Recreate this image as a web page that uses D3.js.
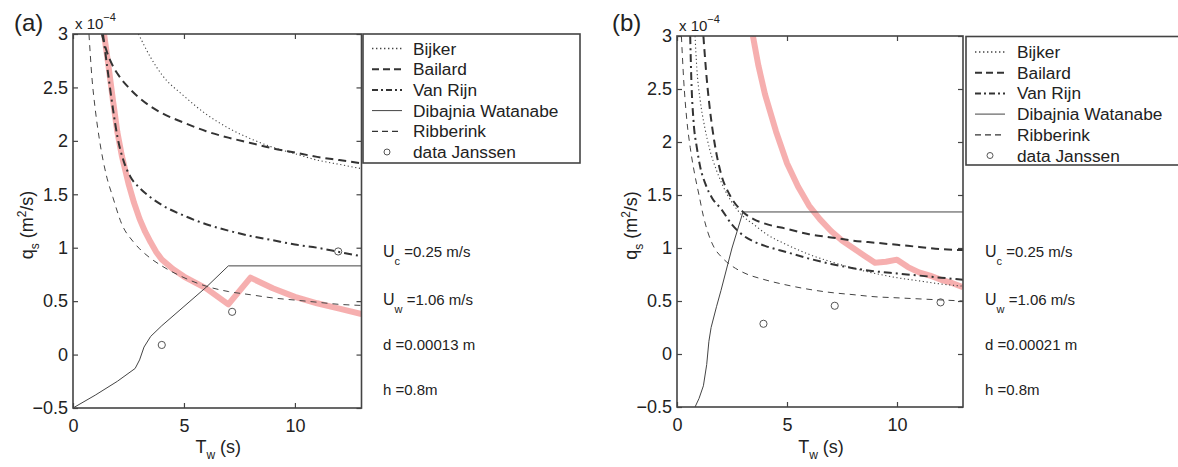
<!DOCTYPE html>
<html><head><meta charset="utf-8">
<script src="https://cdn.jsdelivr.net/npm/d3@7"></script>
<style>body{margin:0;background:#fff}svg{display:block;font-family:"Liberation Sans",Arial,Helvetica,sans-serif}</style>
</head><body><svg id="c" width="1178" height="467"></svg>
<script>
// ---------- DATA (q_s in units of 1e-4 m^2/s, T_w in s) ----------
const xTicks = [0, 5, 10];
const yTicks = [-0.5, 0, 0.5, 1, 1.5, 2, 2.5, 3];
const legendLabels = ["Bijker", "Bailard", "Van Rijn", "Dibajnia Watanabe", "Ribberink", "data Janssen"];

// panel (a)
const bijkerA = [[2.95,3.0],[3.5,2.78],[4,2.62],[5,2.42],[6,2.25],[7,2.12],[8,2.02],[9,1.94],[10,1.88],[11,1.82],[12,1.78],[13,1.74]];
const bailardA = [[1.3,3.0],[1.5,2.85],[1.75,2.72],[2,2.63],[2.5,2.5],[3,2.4],[4,2.26],[5,2.17],[6,2.09],[7,2.03],[8,1.98],[9,1.93],[10,1.89],[11,1.85],[12,1.82],[13,1.79]];
const vanRijnA = [[1.35,3.0],[1.6,2.6],[1.8,2.3],[2,2.04],[2.3,1.8],[2.6,1.66],[3,1.56],[3.5,1.47],[4,1.4],[5,1.3],[6,1.22],[7,1.16],[8,1.11],[9,1.07],[10,1.03],[11,1.0],[12,0.96],[13,0.92]];
const dibajniaA = [[0,-0.5],[1,-0.38],[2,-0.25],[2.8,-0.13],[3.0,-0.05],[3.2,0.07],[3.5,0.17],[4,0.27],[5,0.45],[6,0.63],[7,0.83],[13,0.83]];
const ribberinkA = [[0.72,3.0],[0.85,2.6],[1.0,2.3],[1.2,2.0],[1.5,1.68],[1.8,1.47],[2.2,1.22],[2.7,1.06],[3,0.99],[3.5,0.9],[4,0.83],[5,0.72],[6,0.64],[7,0.59],[8,0.56],[9,0.53],[10,0.51],[11,0.49],[12,0.47],[13,0.46]];
const modelA = [[1.4,3.0],[1.6,2.7],[1.8,2.38],[2,2.08],[2.2,1.86],[2.5,1.6],[2.75,1.42],[3,1.27],[3.25,1.15],[3.5,1.05],[3.75,0.96],[4,0.89],[4.5,0.8],[5,0.73],[6,0.62],[7,0.47],[8,0.72],[9,0.62],[10,0.54],[11,0.48],[12,0.43],[13,0.38]];
const janssenA = [[4,0.09],[7.17,0.40],[11.95,0.965]];
const annotA = ["0.25 m/s", "1.06 m/s", "d =0.00013 m", "h =0.8m"];

// panel (b)
const bijkerB = [[0.82,3.0],[0.9,2.7],[1.05,2.4],[1.25,2.15],[1.5,1.92],[1.8,1.73],[2.1,1.58],[2.5,1.43],[3,1.3],[3.5,1.22],[4,1.14],[5,1.03],[6,0.94],[7,0.87],[8,0.81],[9,0.76],[10,0.72],[11,0.69],[12,0.66],[13,0.64]];
const bailardB = [[1.2,3.0],[1.35,2.6],[1.5,2.3],[1.7,2.0],[2.0,1.7],[2.4,1.5],[3,1.34],[3.5,1.27],[4,1.23],[5,1.18],[6,1.13],[7,1.1],[8,1.07],[9,1.05],[10,1.03],[11,1.01],[12,0.99],[13,0.98]];
const vanRijnB = [[0.6,3.0],[0.65,2.6],[0.75,2.2],[0.9,1.95],[1.05,1.77],[1.3,1.6],[1.6,1.47],[2,1.37],[2.5,1.22],[3,1.12],[3.5,1.06],[4,1.02],[5,0.96],[6,0.9],[7,0.85],[8,0.81],[9,0.78],[10,0.76],[11,0.74],[12,0.72],[13,0.7]];
const dibajniaB = [[0.82,-0.5],[1.0,-0.42],[1.2,-0.3],[1.35,-0.1],[1.45,0.12],[1.55,0.25],[1.8,0.45],[2.0,0.6],[2.5,1.0],[3.0,1.34],[13,1.34]];
const ribberinkB = [[0.2,3.0],[0.3,2.6],[0.45,2.2],[0.6,1.95],[0.8,1.7],[1.0,1.5],[1.2,1.3],[1.4,1.15],[1.7,1.0],[2.0,0.92],[2.5,0.83],[3,0.77],[4,0.7],[5,0.65],[6,0.61],[7,0.58],[8,0.56],[9,0.54],[10,0.53],[11,0.52],[12,0.51],[13,0.5]];
const modelB = [[3.45,3.0],[3.7,2.72],[4,2.45],[4.5,2.1],[5,1.8],[5.5,1.58],[6,1.4],[6.5,1.27],[7,1.16],[7.5,1.07],[8,1.0],[8.5,0.93],[9,0.86],[9.5,0.87],[10,0.89],[10.5,0.82],[11,0.77],[11.5,0.74],[12,0.7],[12.5,0.67],[13,0.63]];
const janssenB = [[3.93,0.285],[7.17,0.455],[11.98,0.487]];
const annotB = ["0.25 m/s", "1.06 m/s", "d =0.00021 m", "h =0.8m"];

// ---------- STYLES ----------
const styles = [
  {w:1.1, dash:"1.2,2.6", col:"#444", smooth:true},   // Bijker
  {w:2.0, dash:"8,5", col:"#333", smooth:true},       // Bailard
  {w:2.0, dash:"8,4,2,4", col:"#333", smooth:true},   // Van Rijn
  {w:1.0, dash:null, col:"#444", smooth:false},       // Dibajnia
  {w:1.0, dash:"6,5", col:"#444", smooth:true}        // Ribberink
];

const svg = d3.select("#c");

const panels = [
  {id:"a", label:"(a)", lx:14, box:{l:73, r:361.5, t:34, b:408},
   series:[bijkerA,bailardA,vanRijnA,dibajniaA,ribberinkA], model:modelA, data:janssenA, annot:annotA,
   legend:{x:363, y:34, w:217, h:129, sx:372, tx:413, row0:48.5}, ax:383, qx:33},
  {id:"b", label:"(b)", lx:612, box:{l:677, r:963, t:36, b:407},
   series:[bijkerB,bailardB,vanRijnB,dibajniaB,ribberinkB], model:modelB, data:janssenB, annot:annotB,
   legend:{x:966, y:36.5, w:230, h:128.5, sx:975, tx:1017, row0:52}, ax:985, qx:637}
];

panels.forEach(p => {
  const g = svg.append("g");
  const B = p.box;
  const x = d3.scaleLinear().domain([0,13]).range([B.l, B.r]);
  const y = d3.scaleLinear().domain([-0.5,3]).range([B.b, B.t]);
  const line = d3.line().x(d=>x(d[0])).y(d=>y(d[1]));
  const sline = d3.line().x(d=>x(d[0])).y(d=>y(d[1])).curve(d3.curveMonotoneX);

  const cid = "clip"+p.id;
  svg.append("clipPath").attr("id",cid).append("rect")
    .attr("x",B.l).attr("y",B.t).attr("width",B.r-B.l).attr("height",B.b-B.t);
  const plot = g.append("g").attr("clip-path",`url(#${cid})`);

  // pink model curve
  plot.append("path").datum(p.model).attr("d",line)
    .attr("fill","none").attr("stroke","#f07a7a").attr("stroke-opacity",0.6)
    .attr("stroke-width",6).attr("stroke-linejoin","round");

  p.series.forEach((s,i) => {
    const st = styles[i];
    plot.append("path").datum(s).attr("d",st.smooth?sline:line)
      .attr("fill","none").attr("stroke",st.col).attr("stroke-width",st.w)
      .attr("stroke-dasharray",st.dash);
  });

  g.selectAll("circle.pt").data(p.data).enter().append("circle")
    .attr("cx",d=>x(d[0])).attr("cy",d=>y(d[1])).attr("r",3.6)
    .attr("fill","none").attr("stroke","#555").attr("stroke-width",1);

  // axes (inward ticks)
  const fmt = d3.format("~g");
  const axL = g.append("g").attr("transform",`translate(${B.l},0)`)
    .call(d3.axisLeft(y).tickValues(yTicks).tickSizeInner(-5).tickSizeOuter(0).tickPadding(5).tickFormat(fmt));
  const axB = g.append("g").attr("transform",`translate(0,${B.b})`)
    .call(d3.axisBottom(x).tickValues(xTicks).tickSizeInner(-5).tickSizeOuter(0).tickPadding(11).tickFormat(fmt));
  const axR = g.append("g").attr("transform",`translate(${B.r},0)`)
    .call(d3.axisRight(y).tickValues(yTicks).tickSizeInner(-5).tickSizeOuter(0).tickFormat(""));
  const axT = g.append("g").attr("transform",`translate(0,${B.t})`)
    .call(d3.axisTop(x).tickValues(xTicks).tickSizeInner(-5).tickSizeOuter(0).tickFormat(""));
  [axL,axB,axR,axT].forEach(a => {
    a.select(".domain").remove();
    a.selectAll("line").attr("stroke","#444").attr("stroke-width",1.2);
    a.selectAll("text").attr("font-size",18).attr("fill","#222")
      .attr("font-family",'"Liberation Sans",Arial,sans-serif');
  });
  g.append("rect").attr("x",B.l).attr("y",B.t).attr("width",B.r-B.l).attr("height",B.b-B.t)
    .attr("fill","none").attr("stroke","#444").attr("stroke-width",1.6);

  // x 10^-4
  const ex = g.append("text").attr("x",B.l+2).attr("y",B.t-5).attr("font-size",15).attr("fill","#222");
  ex.append("tspan").text("x 10");
  ex.append("tspan").attr("font-size",11).attr("dy",-8).text("−4");

  // panel label
  g.append("text").attr("x",p.lx).attr("y",31).attr("font-size",24).attr("fill","#222").text(p.label);

  // axis titles
  const xt = g.append("text").attr("x",(B.l+B.r)/2 + 1).attr("y",453).attr("text-anchor","middle")
    .attr("font-size",18).attr("fill","#222");
  xt.append("tspan").text("T");
  xt.append("tspan").attr("font-size",12).attr("dy",6).text("w");
  xt.append("tspan").attr("dy",-6).text(" (s)");

  const yt = g.append("text").attr("transform",`translate(${p.qx},${(B.t+B.b)/2+4}) rotate(-90)`)
    .attr("text-anchor","middle").attr("font-size",18).attr("fill","#222");
  yt.append("tspan").text("q");
  yt.append("tspan").attr("font-size",12).attr("dy",6).text("s");
  yt.append("tspan").attr("dy",-6).text(" (m");
  yt.append("tspan").attr("font-size",12).attr("dy",-7).text("2");
  yt.append("tspan").attr("dy",7).text("/s)");

  // legend
  const L = p.legend;
  g.append("rect").attr("x",L.x).attr("y",L.y).attr("width",L.w).attr("height",L.h)
    .attr("fill","#fff").attr("stroke","#444").attr("stroke-width",1.6);
  legendLabels.forEach((lab,i) => {
    const yy = L.row0 + i*20.7;
    if (i < 5) {
      const st = styles[i];
      g.append("line").attr("x1",L.sx).attr("x2",L.sx+30).attr("y1",yy).attr("y2",yy)
        .attr("stroke",i===4?"#333":st.col).attr("stroke-width",i===4?1.3:(i===0?1.4:st.w))
        .attr("stroke-dasharray",i===0?"1.4,2.6":(i===1?"7,4":(i===2?"6,3,2,3":(i===4?"6,4":null))));
    } else {
      g.append("circle").attr("cx",L.sx+15).attr("cy",yy).attr("r",3)
        .attr("fill","none").attr("stroke","#555");
    }
    g.append("text").attr("x",L.tx).attr("y",yy+6).attr("font-size",17.3).attr("fill","#222").text(lab);
  });

  // annotations
  const fs = 15;
  const a1 = g.append("text").attr("x",p.ax).attr("y",257).attr("font-size",fs+1).attr("fill","#222");
  a1.append("tspan").text("U");
  a1.append("tspan").attr("font-size",11).attr("dy",8).text("c");
  a1.append("tspan").attr("font-size",fs).attr("dy",-8).text(" =" + p.annot[0]);
  const a2 = g.append("text").attr("x",p.ax).attr("y",305).attr("font-size",fs+1).attr("fill","#222");
  a2.append("tspan").text("U");
  a2.append("tspan").attr("font-size",11).attr("dy",8).text("w");
  a2.append("tspan").attr("font-size",fs).attr("dy",-8).text(" =" + p.annot[1]);
  g.append("text").attr("x",p.ax).attr("y",350).attr("font-size",fs).attr("fill","#222").text(p.annot[2]);
  g.append("text").attr("x",p.ax).attr("y",395).attr("font-size",fs).attr("fill","#222").text(p.annot[3]);
});
</script></body></html>
